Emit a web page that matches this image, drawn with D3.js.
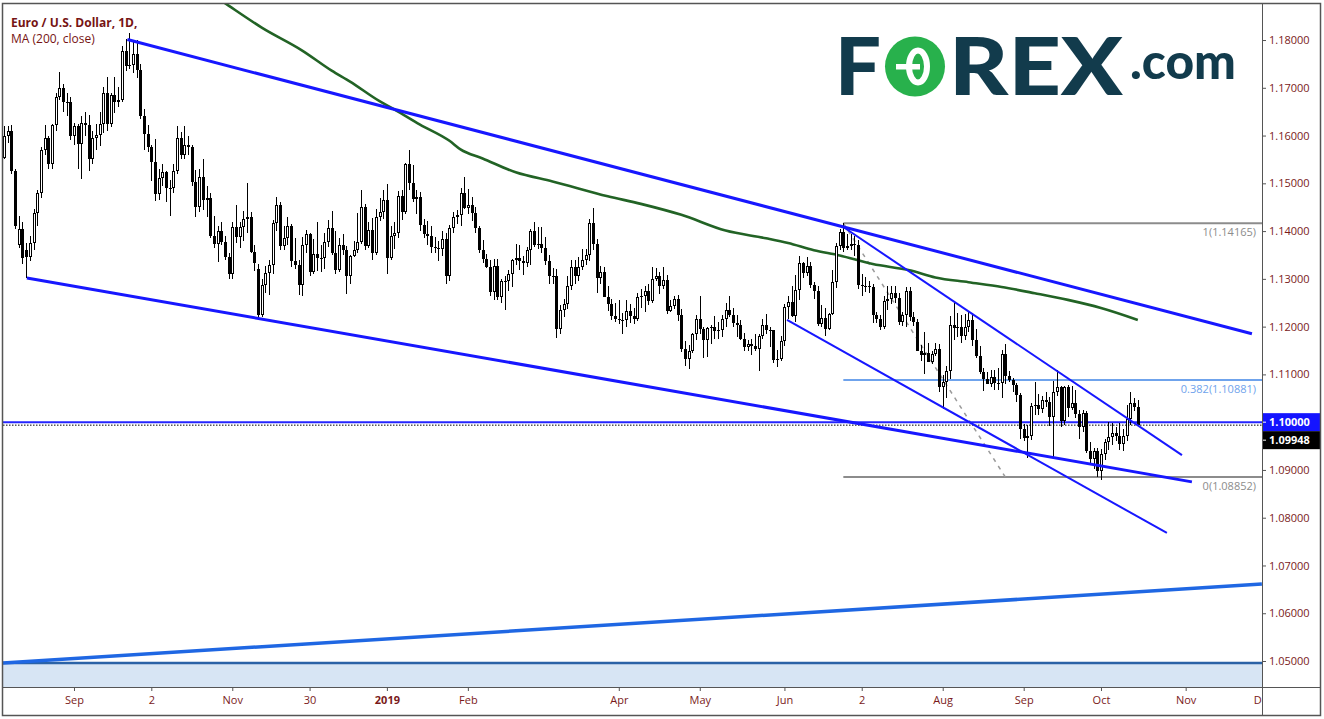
<!DOCTYPE html>
<html>
<head>
<meta charset="utf-8">
<script src="https://cdn.jsdelivr.net/npm/d3@7/dist/d3.min.js"></script>
<style>
html,body{margin:0;padding:0;background:#fff;overflow:hidden;}
svg{display:block;font-family:"Open Sans","DejaVu Sans",sans-serif;}
</style>
</head>
<body>
<svg id="chart" width="1324" height="719"></svg>
<script>
// ---------------- DATA ----------------
const firstDay = "2018-08-07";
const holidays = ["2018-12-25", "2019-01-01"];
const title = "Euro / U.S. Dollar, 1D,";
const indicatorLabel = "MA (200, close)";

// daily candles [open, high, low, close], one array per month
const aug2018 = [
[1.1553,1.1620,1.1550,1.1600],[1.1600,1.1620,1.1585,1.1610],[1.1610,1.1622,1.1520,1.1525],[1.1525,1.1530,1.1405,1.1410],
[1.1370,1.1432,1.1365,1.1405],[1.1405,1.1418,1.1331,1.1343],[1.1360,1.1375,1.1301,1.1345],[1.1345,1.1390,1.1338,1.1376],
[1.1376,1.1446,1.1360,1.1437],[1.1437,1.1485,1.1410,1.1479],[1.1479,1.1575,1.1470,1.1570],[1.1570,1.1623,1.1560,1.1595],
[1.1595,1.1600,1.1530,1.1540],[1.1540,1.1625,1.1530,1.1622],[1.1622,1.1690,1.1610,1.1680],[1.1680,1.1733,1.1675,1.1700],
[1.1700,1.1708,1.1650,1.1671],[1.1671,1.1690,1.1640,1.1670],[1.1670,1.1680,1.1590,1.1600]];
const sep2018 = [
[1.1600,1.1627,1.1580,1.1620],[1.1620,1.1625,1.1530,1.1582],[1.1582,1.1640,1.1510,1.1627],[1.1627,1.1650,1.1600,1.1623],
[1.1623,1.1642,1.1525,1.1551],[1.1551,1.1609,1.1540,1.1595],[1.1595,1.1625,1.1570,1.1602],[1.1602,1.1650,1.1578,1.1625],
[1.1625,1.1701,1.1605,1.1689],[1.1689,1.1722,1.1610,1.1625],[1.1625,1.1690,1.1618,1.1685],[1.1685,1.1722,1.1648,1.1670],
[1.1670,1.1701,1.1660,1.1674],[1.1674,1.1788,1.1670,1.1776],[1.1776,1.1803,1.1735,1.1746],[1.1746,1.1815,1.1740,1.1748],
[1.1748,1.1795,1.1730,1.1771],[1.1771,1.1800,1.1720,1.1738],[1.1738,1.1750,1.1635,1.1640],[1.1640,1.1655,1.1570,1.1604]];
const oct2018 = [
[1.1604,1.1622,1.1565,1.1577],[1.1577,1.1580,1.1505,1.1545],[1.1545,1.1592,1.1463,1.1478],[1.1478,1.1530,1.1465,1.1512],
[1.1512,1.1540,1.1495,1.1524],[1.1524,1.1525,1.1460,1.1490],[1.1490,1.1506,1.1432,1.1491],[1.1491,1.1540,1.1480,1.1525],
[1.1525,1.1620,1.1520,1.1594],[1.1594,1.1608,1.1550,1.1560],[1.1560,1.1621,1.1550,1.1580],[1.1580,1.1600,1.1560,1.1575],
[1.1575,1.1580,1.1495,1.1502],[1.1502,1.1528,1.1430,1.1451],[1.1451,1.1530,1.1440,1.1513],[1.1513,1.1550,1.1445,1.1466],
[1.1466,1.1495,1.1430,1.1470],[1.1470,1.1480,1.1385,1.1390],[1.1390,1.1432,1.1365,1.1374],[1.1374,1.1410,1.1335,1.1401],
[1.1401,1.1420,1.1370,1.1377],[1.1377,1.1390,1.1340,1.1346],[1.1346,1.1355,1.1300,1.1310]];
const nov2018 = [
[1.1310,1.1418,1.1300,1.1408],[1.1408,1.1455,1.1375,1.1388],[1.1388,1.1420,1.1365,1.1408],[1.1408,1.1443,1.1380,1.1425],
[1.1425,1.1500,1.1395,1.1430],[1.1430,1.1440,1.1355,1.1356],[1.1356,1.1370,1.1317,1.1334],[1.1320,1.1332,1.1216,1.1225],
[1.1225,1.1300,1.1220,1.1288],[1.1288,1.1326,1.1270,1.1312],[1.1312,1.1339,1.1266,1.1330],[1.1330,1.1424,1.1310,1.1416],
[1.1416,1.1472,1.1400,1.1454],[1.1454,1.1460,1.1360,1.1369],[1.1369,1.1410,1.1360,1.1385],[1.1385,1.1430,1.1370,1.1410],
[1.1410,1.1415,1.1325,1.1337],[1.1337,1.1385,1.1320,1.1328],[1.1328,1.1340,1.1267,1.1288],[1.1288,1.1387,1.1265,1.1370],
[1.1370,1.1402,1.1355,1.1393],[1.1393,1.1397,1.1305,1.1315]];
const dec2018 = [
[1.1315,1.1383,1.1310,1.1352],[1.1352,1.1420,1.1317,1.1343],[1.1343,1.1370,1.1315,1.1343],[1.1343,1.1397,1.1320,1.1377],
[1.1377,1.1424,1.1367,1.1406],[1.1406,1.1443,1.1350,1.1355],[1.1355,1.1400,1.1310,1.1318],[1.1318,1.1385,1.1315,1.1371],
[1.1371,1.1394,1.1350,1.1360],[1.1360,1.1369,1.1268,1.1306],[1.1306,1.1350,1.1290,1.1347],[1.1347,1.1380,1.1345,1.1360],
[1.1360,1.1438,1.1355,1.1377],[1.1377,1.1486,1.1372,1.1450],[1.1450,1.1456,1.1361,1.1369],[1.1369,1.1420,1.1365,1.1403],
[1.1403,1.1427,1.1340,1.1354],[1.1354,1.1446,1.1350,1.1430],[1.1430,1.1470,1.1422,1.1441],[1.1441,1.1487,1.1426,1.1466]];
const jan2019 = [
[1.1466,1.1498,1.1310,1.1343],[1.1343,1.1411,1.1340,1.1390],[1.1390,1.1420,1.1362,1.1395],[1.1395,1.1483,1.1385,1.1474],
[1.1474,1.1486,1.1424,1.1441],[1.1441,1.1542,1.1435,1.1541],[1.1541,1.1570,1.1487,1.1501],[1.1501,1.1539,1.1460,1.1468],
[1.1468,1.1487,1.1435,1.1472],[1.1472,1.1481,1.1400,1.1412],[1.1412,1.1425,1.1385,1.1393],[1.1393,1.1422,1.1370,1.1390],
[1.1390,1.1410,1.1355,1.1366],[1.1366,1.1387,1.1355,1.1365],[1.1365,1.1380,1.1338,1.1363],[1.1363,1.1401,1.1347,1.1383],
[1.1383,1.1395,1.1290,1.1306],[1.1306,1.1413,1.1296,1.1406],[1.1406,1.1440,1.1395,1.1430],[1.1430,1.1445,1.1415,1.1433],
[1.1433,1.1490,1.1410,1.1480],[1.1480,1.1514,1.1446,1.1448]];
const feb2019 = [
[1.1448,1.1489,1.1436,1.1455],[1.1455,1.1471,1.1422,1.1437],[1.1437,1.1450,1.1397,1.1407],[1.1407,1.1410,1.1355,1.1361],
[1.1361,1.1382,1.1334,1.1341],[1.1341,1.1353,1.1322,1.1325],[1.1325,1.1340,1.1265,1.1273],[1.1273,1.1341,1.1256,1.1326],
[1.1326,1.1342,1.1256,1.1261],[1.1261,1.1300,1.1249,1.1295],[1.1295,1.1306,1.1234,1.1296],[1.1296,1.1318,1.1275,1.1311],
[1.1311,1.1341,1.1283,1.1340],[1.1340,1.1372,1.1328,1.1344],[1.1344,1.1371,1.1319,1.1338],[1.1338,1.1348,1.1309,1.1334],
[1.1334,1.1367,1.1325,1.1360],[1.1360,1.1404,1.1329,1.1400],[1.1400,1.1420,1.1366,1.1371],[1.1371,1.1408,1.1363,1.1373]];
const mar2019 = [
[1.1373,1.1408,1.1354,1.1364],[1.1364,1.1388,1.1330,1.1337],[1.1337,1.1350,1.1290,1.1307],[1.1307,1.1323,1.1290,1.1307],
[1.1307,1.1320,1.1176,1.1195],[1.1195,1.1245,1.1185,1.1234],[1.1234,1.1257,1.1220,1.1247],[1.1247,1.1306,1.1237,1.1286],
[1.1286,1.1339,1.1276,1.1324],[1.1324,1.1340,1.1290,1.1307],[1.1307,1.1345,1.1296,1.1325],[1.1325,1.1362,1.1318,1.1339],
[1.1339,1.1362,1.1330,1.1350],[1.1350,1.1426,1.1337,1.1416],[1.1416,1.1448,1.1361,1.1374],[1.1374,1.1383,1.1270,1.1302],
[1.1302,1.1326,1.1289,1.1314],[1.1314,1.1325,1.1262,1.1263],[1.1263,1.1286,1.1233,1.1248],[1.1248,1.1258,1.1213,1.1223],
[1.1223,1.1250,1.1210,1.1217]];
const apr2019 = [
[1.1217,1.1255,1.1205,1.1213],[1.1213,1.1229,1.1184,1.1214],[1.1214,1.1255,1.1200,1.1233],[1.1233,1.1247,1.1208,1.1222],
[1.1222,1.1240,1.1206,1.1216],[1.1216,1.1270,1.1212,1.1262],[1.1262,1.1279,1.1240,1.1264],[1.1264,1.1286,1.1231,1.1274],
[1.1274,1.1289,1.1246,1.1254],[1.1254,1.1324,1.1250,1.1300],[1.1300,1.1323,1.1296,1.1306],[1.1306,1.1315,1.1269,1.1285],
[1.1285,1.1324,1.1279,1.1297],[1.1297,1.1308,1.1226,1.1233],[1.1233,1.1255,1.1230,1.1244],[1.1244,1.1264,1.1237,1.1258],
[1.1258,1.1266,1.1212,1.1225],[1.1225,1.1236,1.1146,1.1153],[1.1153,1.1170,1.1118,1.1133],[1.1133,1.1162,1.1111,1.1150],
[1.1150,1.1187,1.1145,1.1185],[1.1185,1.1224,1.1171,1.1216]];
const may2019 = [
[1.1216,1.1265,1.1184,1.1195],[1.1195,1.1200,1.1135,1.1172],[1.1172,1.1200,1.1137,1.1197],[1.1197,1.1204,1.1164,1.1200],
[1.1200,1.1222,1.1175,1.1190],[1.1190,1.1210,1.1175,1.1193],[1.1193,1.1225,1.1178,1.1215],[1.1215,1.1250,1.1200,1.1234],
[1.1234,1.1264,1.1221,1.1224],[1.1224,1.1240,1.1200,1.1207],[1.1207,1.1225,1.1178,1.1203],[1.1203,1.1214,1.1172,1.1174],
[1.1174,1.1187,1.1150,1.1157],[1.1157,1.1172,1.1150,1.1164],[1.1164,1.1175,1.1140,1.1160],[1.1160,1.1184,1.1150,1.1153],
[1.1153,1.1185,1.1107,1.1180],[1.1180,1.1215,1.1175,1.1204],[1.1204,1.1226,1.1185,1.1193],[1.1193,1.1200,1.1157,1.1192],
[1.1192,1.1193,1.1124,1.1130],[1.1130,1.1152,1.1116,1.1132],[1.1132,1.1180,1.1129,1.1169]];
const jun2019 = [
[1.1169,1.1248,1.1160,1.1241],[1.1241,1.1265,1.1215,1.1251],[1.1251,1.1285,1.1220,1.1222],[1.1222,1.1308,1.1210,1.1277],
[1.1277,1.1348,1.1255,1.1333],[1.1333,1.1335,1.1301,1.1312],[1.1312,1.1345,1.1305,1.1327],[1.1327,1.1336,1.1281,1.1288],
[1.1288,1.1294,1.1258,1.1274],[1.1274,1.1285,1.1202,1.1206],[1.1206,1.1245,1.1200,1.1218],[1.1218,1.1240,1.1181,1.1194],
[1.1194,1.1228,1.1193,1.1226],[1.1226,1.1318,1.1225,1.1294],[1.1294,1.1375,1.1280,1.1369],[1.1369,1.1405,1.1360,1.1399],
[1.1399,1.1416,1.1356,1.1364],[1.1364,1.1393,1.1360,1.1368],[1.1368,1.1393,1.1360,1.1373],[1.1373,1.1390,1.1348,1.1370]];
const jul2019 = [
[1.1370,1.1382,1.1278,1.1287],[1.1287,1.1310,1.1265,1.1285],[1.1285,1.1303,1.1273,1.1285],[1.1285,1.1295,1.1271,1.1284],
[1.1284,1.1290,1.1207,1.1225],[1.1225,1.1231,1.1207,1.1215],[1.1215,1.1224,1.1193,1.1199],[1.1199,1.1265,1.1195,1.1253],
[1.1253,1.1286,1.1235,1.1258],[1.1258,1.1285,1.1247,1.1271],[1.1271,1.1285,1.1250,1.1260],[1.1260,1.1270,1.1203,1.1210],
[1.1210,1.1230,1.1201,1.1224],[1.1224,1.1282,1.1200,1.1275],[1.1275,1.1282,1.1211,1.1220],[1.1220,1.1231,1.1202,1.1210],
[1.1210,1.1215,1.1150,1.1150],[1.1150,1.1162,1.1128,1.1140],[1.1140,1.1188,1.1101,1.1145],[1.1145,1.1165,1.1125,1.1127],
[1.1127,1.1150,1.1121,1.1142],[1.1142,1.1165,1.1138,1.1154],[1.1154,1.1163,1.1063,1.1073]];
const aug2019 = [
[1.1073,1.1099,1.1027,1.1085],[1.1085,1.1117,1.1050,1.1108],[1.1108,1.1223,1.1090,1.1203],[1.1203,1.1250,1.1171,1.1198],
[1.1198,1.1229,1.1178,1.1199],[1.1199,1.1225,1.1165,1.1180],[1.1180,1.1227,1.1172,1.1200],[1.1200,1.1232,1.1188,1.1213],
[1.1213,1.1229,1.1160,1.1171],[1.1171,1.1196,1.1135,1.1139],[1.1139,1.1160,1.1100,1.1106],[1.1106,1.1114,1.1066,1.1090],
[1.1090,1.1106,1.1079,1.1079],[1.1079,1.1110,1.1074,1.1095],[1.1095,1.1110,1.1068,1.1083],[1.1083,1.1113,1.1067,1.1082],
[1.1082,1.1152,1.1050,1.1143],[1.1143,1.1164,1.1080,1.1096],[1.1096,1.1107,1.1084,1.1088],[1.1088,1.1093,1.1064,1.1078],
[1.1078,1.1083,1.1042,1.1056],[1.1056,1.1061,1.0965,1.0985]];
const sep2019 = [
[1.0985,1.0997,1.0960,1.0967],[1.0967,1.0994,1.0926,1.0972],[1.0972,1.1040,1.0963,1.1034],[1.1034,1.1085,1.1016,1.1035],
[1.1035,1.1060,1.1014,1.1027],[1.1027,1.1055,1.1020,1.1046],[1.1046,1.1064,1.1031,1.1043],[1.1043,1.1053,1.0992,1.1010],
[1.1010,1.1087,1.0927,1.1063],[1.1063,1.1109,1.1055,1.1073],[1.1073,1.1075,1.0990,1.1002],[1.1002,1.1075,1.0995,1.1073],
[1.1073,1.1078,1.1010,1.1030],[1.1030,1.1075,1.1025,1.1041],[1.1041,1.1068,1.1008,1.1018],[1.1018,1.1025,1.0965,1.0990],
[1.0990,1.1025,1.0980,1.1020],[1.1020,1.1024,1.0935,1.0940],[1.0940,1.0959,1.0915,1.0922],[1.0922,1.0945,1.0903,1.0940],
[1.0940,1.0945,1.0885,1.0898]];
const oct2019 = [
[1.0898,1.0943,1.0879,1.0933],[1.0933,1.0964,1.0921,1.0958],[1.0958,1.1000,1.0942,1.0969],[1.0969,1.0999,1.0953,1.0978],
[1.0978,1.0989,1.0960,1.0971],[1.0971,1.0999,1.0941,1.0955],[1.0955,1.0986,1.0940,1.0972],[1.0972,1.1035,1.0960,1.1006],
[1.1006,1.1063,1.0995,1.1041],[1.1041,1.1051,1.1023,1.1031],[1.1031,1.1047,1.0992,1.09948]];

// 200-day moving average at these bars
const maBars   = [54,61,70,81,89,94,102,106,113,121,124,130,139,149,164,173,184,196,207,213,220,227,236,246,253,262,271,280,289,298,308];
const maValues = [1.1909,1.1872,1.1826,1.1778,1.1736,1.1713,1.1672,1.1655,1.1623,1.1589,1.1571,1.1552,1.1523,1.1504,1.1473,1.1457,1.1434,1.1401,1.1385,1.1375,1.1360,1.1349,1.1331,1.1318,1.1303,1.1293,1.1283,1.1270,1.1256,1.1239,1.1214];

// drawn trend lines [barIndex, price]
const trendTop      = [[33.5, 1.1801], [339.0, 1.1185]];
const trendBottom   = [[6.2, 1.1302], [322.7, 1.0875]];
const channelUpper  = [[227.9, 1.1409], [320.0, 1.0931]];
const channelLower  = [[212.7, 1.1214], [315.9, 1.0768]];
const longSupport   = [[-0.3, 1.0496], [341.7, 1.0661]];
const floorLevel = 1.0496;
const roundLevel = 1.10000;
const lastPrice = 1.09948;

// fibonacci retracement
const fibStartDate = "2019-06-25";
const fibEndDate = "2019-08-26";
const fibRatios = ["1", "0.382", "0"];
const fibPrices = [1.14165, 1.10881, 1.08852];

// axes
const priceTicks = [1.05,1.06,1.07,1.08,1.09,1.10,1.11,1.12,1.13,1.14,1.15,1.16,1.17,1.18];
const timeTickDates  = ["2018-09-03","2018-10-02","2018-11-01","2018-11-30","2019-01-02","2019-02-01","2019-04-01","2019-05-01","2019-06-03","2019-07-02","2019-08-01","2019-09-02","2019-10-01","2019-11-01","2019-12-02"];
const timeTickLabels = ["Sep","2","Nov","30","2019","Feb","Apr","May","Jun","2","Aug","Sep","Oct","Nov","Dec"];

// ---------------- SETUP ----------------
const monthBlocks = [aug2018, sep2018, oct2018, nov2018, dec2018, jan2019, feb2019, mar2019, apr2019, may2019, jun2019, jul2019, aug2019, sep2019, oct2019];
const candles = monthBlocks.flat().map((r, i) => ({i, o: r[0], h: r[1], l: r[2], c: r[3]}));

function tradingDays(start, end, skip) {
  const out = [];
  const d = new Date(start + "T00:00:00Z"), e = new Date(end + "T00:00:00Z");
  while (d <= e) {
    const wd = d.getUTCDay(), s = d.toISOString().slice(0, 10);
    if (wd !== 0 && wd !== 6 && !skip.includes(s)) out.push(s);
    d.setUTCDate(d.getUTCDate() + 1);
  }
  return out;
}
const days = tradingDays(firstDay, "2019-12-31", holidays);
const bar = s => days.indexOf(s);

const plot = {left: 3, right: 1262, top: 4, bottom: 687};
const frame = {left: 2.5, top: 3.5, right: 1320.5, bottom: 715.5};

const x = d3.scaleLinear().domain([-0.288, 341.74]).range([plot.left, plot.right]);
const y = d3.scaleLinear().domain([1.04456, 1.18754]).range([plot.bottom, plot.top]);

const svg = d3.select("#chart");
const defs = svg.append("defs");
defs.append("clipPath").attr("id", "plotClip").append("rect")
  .attr("x", plot.left).attr("y", plot.top)
  .attr("width", plot.right - plot.left).attr("height", plot.bottom - plot.top);
defs.append("clipPath").attr("id", "timeClip").append("rect")
  .attr("x", plot.left).attr("y", plot.bottom)
  .attr("width", plot.right - plot.left).attr("height", frame.bottom - plot.bottom);

svg.append("rect").attr("width", 1324).attr("height", 719).attr("fill", "#fff");

const P = svg.append("g").attr("clip-path", "url(#plotClip)");
const line = d3.line().x(d => x(d[0])).y(d => y(d[1]));

// floor zone
P.append("rect").attr("x", plot.left).attr("width", plot.right - plot.left)
  .attr("y", y(floorLevel)).attr("height", plot.bottom - y(floorLevel)).attr("fill", "#d7e5f4");
P.append("line").attr("x1", plot.left).attr("x2", plot.right)
  .attr("y1", y(floorLevel)).attr("y2", y(floorLevel))
  .attr("stroke", "#2a62a6").attr("stroke-width", 2.5);

// fib levels
const fibX0 = x(bar(fibStartDate));
const fibColors = ["#8c8c8c", "#6fa3ec", "#8c8c8c"];
fibPrices.forEach((p, k) => {
  P.append("line").attr("x1", fibX0).attr("x2", plot.right).attr("y1", y(p)).attr("y2", y(p))
    .attr("stroke", fibColors[k]).attr("stroke-width", 2);
  P.append("text").attr("x", 1256).attr("y", y(p) + 13).attr("text-anchor", "end")
    .attr("font-size", 11).attr("fill", fibColors[k])
    .text(fibRatios[k] + "(" + d3.format(".5f")(p) + ")");
});
P.append("path").attr("d", line([[bar(fibStartDate), fibPrices[0]], [bar(fibEndDate), fibPrices[2]]]))
  .attr("stroke", "#9a9a9a").attr("stroke-width", 1.5).attr("stroke-dasharray", "4,5").attr("fill", "none");

// horizontal round level and last price
P.append("line").attr("x1", plot.left).attr("x2", plot.right).attr("y1", y(roundLevel)).attr("y2", y(roundLevel))
  .attr("stroke", "#2424ff").attr("stroke-width", 2);
P.append("line").attr("x1", plot.left).attr("x2", plot.right).attr("y1", y(lastPrice) + 0.5).attr("y2", y(lastPrice) + 0.5)
  .attr("stroke", "#000").attr("stroke-width", 1).attr("stroke-dasharray", "1.5,1.5");

// moving average
P.append("path").datum(maBars.map((b, k) => [b, maValues[k]]))
  .attr("d", d3.line().x(d => x(d[0])).y(d => y(d[1])).curve(d3.curveMonotoneX))
  .attr("fill", "none").attr("stroke", "#226325").attr("stroke-width", 2.6);

// candles
const C = P.append("g").attr("shape-rendering", "crispEdges");
const cx = d => Math.round(x(d.i));
C.selectAll("rect.wick").data(candles).join("rect").attr("class", "wick")
  .attr("x", cx).attr("width", 1)
  .attr("y", d => Math.round(y(d.h))).attr("height", d => Math.max(1, Math.round(y(d.l)) - Math.round(y(d.h))))
  .attr("fill", "#000");
const bTop = d => Math.round(y(Math.max(d.o, d.c)));
const bBot = d => Math.round(y(Math.min(d.o, d.c)));
C.selectAll("rect.body").data(candles).join("rect").attr("class", "body")
  .attr("x", d => cx(d) - 1).attr("width", 3)
  .attr("y", bTop).attr("height", d => Math.max(1, bBot(d) - bTop(d)))
  .attr("fill", "#000");
C.selectAll("rect.hollow").data(candles.filter(d => d.c > d.o && bBot(d) - bTop(d) >= 3)).join("rect").attr("class", "hollow")
  .attr("x", cx).attr("width", 1)
  .attr("y", d => bTop(d) + 1).attr("height", d => bBot(d) - bTop(d) - 2)
  .attr("fill", "#fff");

// trend lines
P.append("path").attr("d", line(longSupport)).attr("stroke", "#1f67e3").attr("stroke-width", 3.5).attr("fill", "none");
P.append("path").attr("d", line(trendTop)).attr("stroke", "#1717ff").attr("stroke-width", 3).attr("fill", "none");
P.append("path").attr("d", line(trendBottom)).attr("stroke", "#1717ff").attr("stroke-width", 3).attr("fill", "none");
P.append("path").attr("d", line(channelUpper)).attr("stroke", "#1717ff").attr("stroke-width", 2).attr("fill", "none");
P.append("path").attr("d", line(channelLower)).attr("stroke", "#1717ff").attr("stroke-width", 2).attr("fill", "none");

// ---------------- AXES ----------------
const axisColor = "#7a1a1a";
const yAxis = svg.append("g").attr("transform", `translate(${plot.right},0)`)
  .call(d3.axisRight(y).tickValues(priceTicks).tickFormat(d3.format(".5f")).tickSize(4).tickPadding(3));
yAxis.select(".domain").remove();
yAxis.selectAll("line").attr("stroke", "#555");
yAxis.selectAll("text").attr("fill", axisColor).attr("font-size", 11).attr("font-family", "Open Sans, DejaVu Sans, sans-serif");

const xAxisG = svg.append("g").attr("clip-path", "url(#timeClip)");
const xAxis = xAxisG.append("g").attr("transform", `translate(0,${plot.bottom})`)
  .call(d3.axisBottom(x).tickValues(timeTickDates.map(bar)).tickFormat((d, k) => timeTickLabels[k]).tickSize(4).tickPadding(5));
xAxis.select(".domain").remove();
xAxis.selectAll("line").attr("stroke", "#555");
xAxis.selectAll("text").attr("fill", axisColor).attr("font-size", 11).attr("font-family", "Open Sans, DejaVu Sans, sans-serif")
  .attr("font-weight", (d, k) => timeTickLabels[k] === "2019" ? "bold" : "normal");

// price labels on the scale
const boxH = 18;
const b1 = y(roundLevel) - boxH / 2;
svg.append("rect").attr("x", plot.right + 0.5).attr("y", b1).attr("width", frame.right - plot.right - 1).attr("height", boxH).attr("fill", "#1414ff");
svg.append("line").attr("x1", plot.right).attr("x2", plot.right + 4).attr("y1", y(roundLevel)).attr("y2", y(roundLevel)).attr("stroke", "#fff");
svg.append("text").attr("x", 1269).attr("y", b1 + 13).attr("fill", "#fff").attr("font-size", 11).attr("font-weight", "bold")
  .text(d3.format(".5f")(roundLevel));
const b2 = b1 + boxH;
svg.append("rect").attr("x", plot.right + 0.5).attr("y", b2).attr("width", frame.right - plot.right - 1).attr("height", boxH).attr("fill", "#000");
svg.append("line").attr("x1", plot.right).attr("x2", plot.right + 4).attr("y1", b2 + boxH / 2).attr("y2", b2 + boxH / 2).attr("stroke", "#fff");
svg.append("text").attr("x", 1269).attr("y", b2 + 13).attr("fill", "#fff").attr("font-size", 11).attr("font-weight", "bold")
  .text(d3.format(".5f")(lastPrice));

// legend
svg.append("text").attr("x", 11).attr("y", 26.5).attr("font-size", 12).attr("font-weight", "bold").attr("fill", "#761414").text(title);
svg.append("text").attr("x", 11).attr("y", 43).attr("font-size", 12).attr("fill", "#761414").text(indicatorLabel);

// logo
const logo = svg.append("g").attr("font-family", "Lato, 'Open Sans', sans-serif").attr("fill", "#123b4c");
logo.append("text").attr("x", 835).attr("y", 95).attr("font-size", 80).attr("font-weight", 900)
  .attr("textLength", 46).attr("lengthAdjust", "spacingAndGlyphs").text("F");
logo.append("circle").attr("cx", 915).attr("cy", 66.5).attr("r", 30).attr("fill", "#28b14c");
logo.append("ellipse").attr("cx", 918).attr("cy", 66.5).attr("rx", 9).attr("ry", 16).attr("fill", "none").attr("stroke", "#fff").attr("stroke-width", 6);
logo.append("rect").attr("x", 896).attr("y", 64).attr("width", 24).attr("height", 5.5).attr("fill", "#fff");
logo.append("text").attr("x", 949).attr("y", 95).attr("font-size", 80).attr("font-weight", 900)
  .attr("textLength", 174).attr("lengthAdjust", "spacingAndGlyphs").text("REX");
logo.append("text").attr("x", 1130).attr("y", 79).attr("font-size", 50).attr("font-weight", 900)
  .attr("textLength", 106).attr("lengthAdjust", "spacingAndGlyphs").text(".com");

// frame and separators
svg.append("line").attr("x1", plot.right + 0.5).attr("x2", plot.right + 0.5).attr("y1", frame.top).attr("y2", frame.bottom).attr("stroke", "#555");
svg.append("line").attr("x1", frame.left).attr("x2", frame.right).attr("y1", plot.bottom + 0.5).attr("y2", plot.bottom + 0.5).attr("stroke", "#555");
svg.append("rect").attr("x", frame.left).attr("y", frame.top).attr("width", frame.right - frame.left).attr("height", frame.bottom - frame.top)
  .attr("fill", "none").attr("stroke", "#555").attr("stroke-width", 1.5);
</script>
</body>
</html>
